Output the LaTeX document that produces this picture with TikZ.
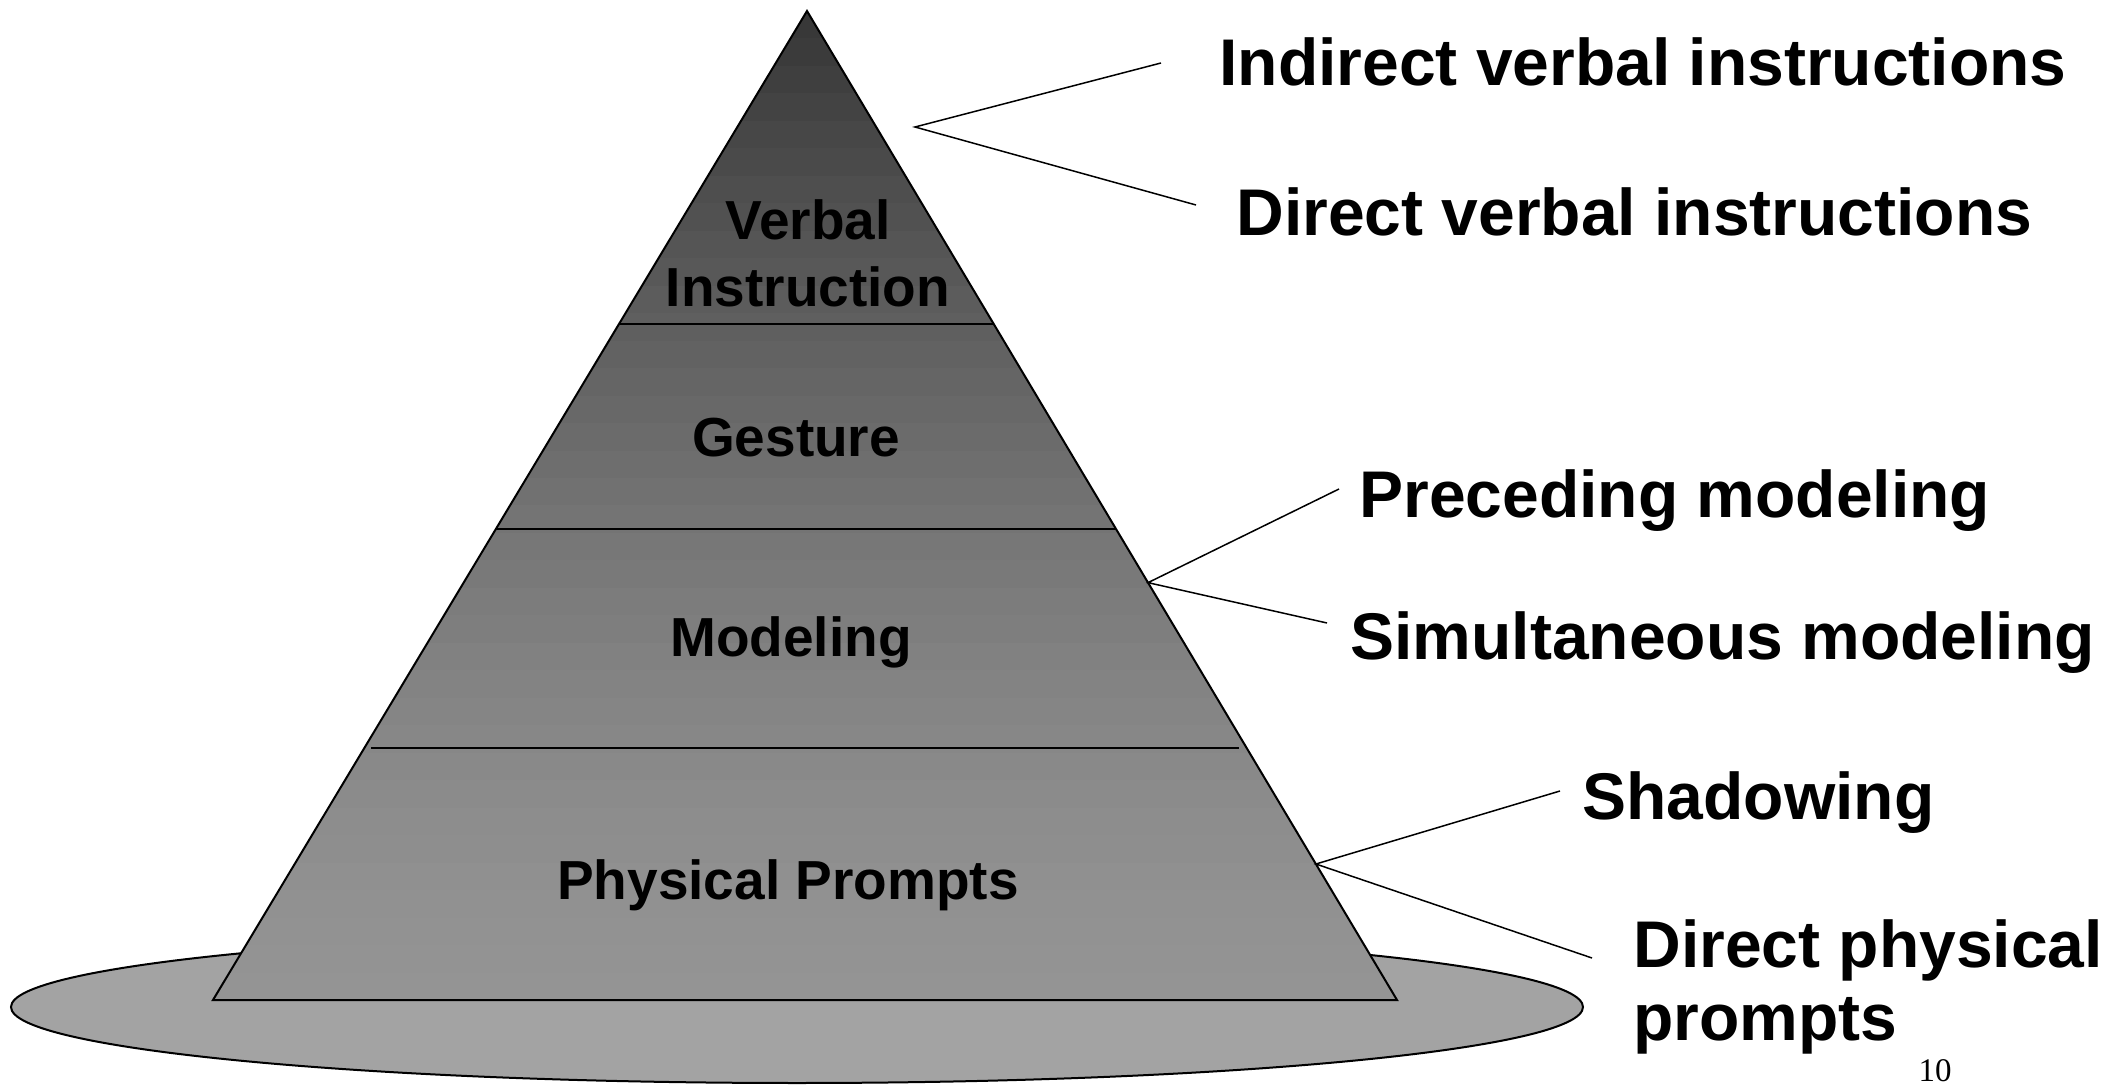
\documentclass[tikz,border=0pt]{standalone}
\usepackage{fontspec}
\setmainfont{Liberation Sans}
\newfontfamily\pagenumfont{Liberation Serif}
\usetikzlibrary{calc}
\definecolor{plate}{RGB}{163,163,163}
\begin{document}
\begin{tikzpicture}[x=0.5pt,y=-0.5pt,
  sidelabel/.style={font=\fontsize{33}{36.5}\selectfont\bfseries, inner sep=0pt, anchor=base west, align=left},
  levellabel/.style={font=\fontsize{27.5}{30}\selectfont\bfseries, inner sep=0pt, anchor=base},
  connector/.style={line width=0.75pt},
  outline/.style={line width=1pt, line join=miter}]
\useasboundingbox (0,0) rectangle (2116,1085);
% base plate
\draw[outline, fill=plate] (797,1007) ellipse [x radius=786, y radius=76];
% pyramid corners
\coordinate (A) at (807,11);
\coordinate (BL) at (213,1000);
\coordinate (BR) at (1397,1000);
% banded gradient fill
\begin{scope}
  \clip (A) -- (BL) -- (BR) -- cycle;
  \foreach \i in {0,...,35}{
    \pgfmathsetmacro{\myt}{(\i+0.5)/36}
    \pgfmathsetmacro{\mygv}{21+37*(1-(1-\myt)^1.5)}
    \pgfmathsetmacro{\ytop}{11+\i*27.4722}
    \pgfmathsetmacro{\ybot}{11+(\i+1)*27.4722+1.5}
    \fill[white!\mygv!black] (200,\ytop) rectangle (1410,\ybot);
  }
\end{scope}
\draw[outline] (A) -- (BL) -- (BR) -- cycle;
% level separators
\coordinate (s1l) at ($(A)!0.3165!(BL)$);
\coordinate (s1r) at ($(A)!0.3165!(BR)$);
\coordinate (s2l) at ($(A)!0.5238!(BL)$);
\coordinate (s2r) at ($(A)!0.5238!(BR)$);
\coordinate (s3l) at (371,748);
\coordinate (s3r) at (1239,748);
\draw[outline] (s1l) -- (s1r);
\draw[outline] (s2l) -- (s2r);
\draw[outline] (s3l) -- (s3r);
% level labels
\node[levellabel] (verbal) at (808,240) {Verbal};
\node[levellabel] (instr) at (808,307) {Instruction};
\node[levellabel] (gesture) at (796,457) {Gesture};
\node[levellabel] (modeling) at (791,656) {Modeling};
\node[levellabel] (physical) at (788,899) {Physical Prompts};
% side labels
\node[sidelabel] (ivi) at (1219,86) {Indirect verbal instructions};
\node[sidelabel] (dvi) at (1236,236) {Direct verbal instructions};
\node[sidelabel] (pm) at (1359,518) {Preceding modeling};
\node[sidelabel] (sm) at (1350,659) {Simultaneous modeling};
\node[sidelabel] (sh) at (1582,819) {Shadowing};
\node[sidelabel] (dpp) at (1633,1040) {Direct physical\\prompts};
% connectors
\coordinate (v1) at (915,127);
\coordinate (e1a) at (1161,63);
\coordinate (e1b) at (1196,205);
\coordinate (v2) at ($(A)!0.578!(BR)$);
\coordinate (e2a) at (1339,489);
\coordinate (e2b) at (1327,623);
\coordinate (v3) at ($(A)!0.8625!(BR)$);
\coordinate (e3a) at (1560,791);
\coordinate (e3b) at (1592,958);
\draw[connector] (e1a) -- (v1) -- (e1b);
\draw[connector] (e2a) -- (v2) -- (e2b);
\draw[connector] (e3a) -- (v3) -- (e3b);
% page number
\node[font=\pagenumfont\fontsize{16.5}{18}\selectfont, inner sep=0pt, anchor=base] (pnum) at (1935,1081) {10};
\end{tikzpicture}
\end{document}
